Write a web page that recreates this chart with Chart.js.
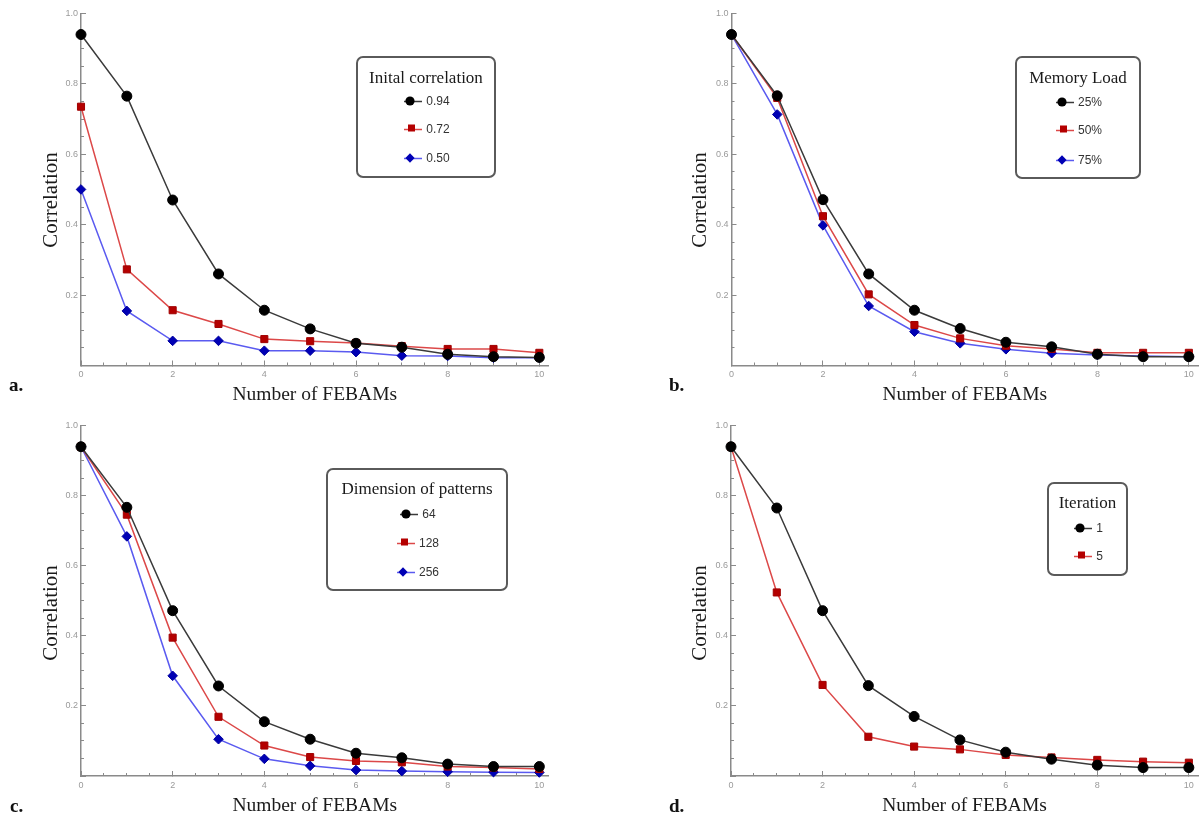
<!DOCTYPE html>
<html>
<head>
<meta charset="utf-8">
<script src="https://cdn.jsdelivr.net/npm/chart.js@4.4.1/dist/chart.umd.min.js"></script>
<style>
  html, body { margin: 0; padding: 0; background: #fff; }
  body { width: 1204px; height: 820px; position: relative; overflow: hidden; }
  canvas { position: absolute; }
  .plabel { position: absolute; font-family: 'Liberation Serif', serif; font-weight: bold; font-size: 19px; color: #111; line-height: 20px; }
  .ytitle { position: absolute; font-family: 'Liberation Serif', serif; font-size: 21px; color: #1a1a1a; line-height: 24px; white-space: nowrap; transform: translate(-50%, -50%) rotate(-90deg); }
  .lbox { position: absolute; border: 2px solid #5a5a5a; border-radius: 7px; box-sizing: border-box; background: #fff; }
  .ltitle { position: absolute; font-family: 'Liberation Serif', serif; font-size: 17px; color: #1a1a1a; line-height: 20px; white-space: nowrap; text-align: center; }
  .lrow { position: absolute; display: flex; align-items: center; justify-content: center; height: 14px; white-space: nowrap; }
  .lrow span { font-family: 'Liberation Sans', Arial, sans-serif; font-size: 12px; color: #333; margin-left: 3px; line-height: 14px; }
  .lrow svg { display: block; }
</style>
</head>
<body>
<canvas id="cA" width="602" height="410" style="left:0px;top:0px"></canvas>
<canvas id="cB" width="602" height="410" style="left:602px;top:0px"></canvas>
<canvas id="cC" width="602" height="410" style="left:0px;top:410px"></canvas>
<canvas id="cD" width="602" height="410" style="left:602px;top:410px"></canvas>
<div id="overlay"></div>
<script>
// ---------------- data ----------------
const febams = [0, 1, 2, 3, 4, 5, 6, 7, 8, 9, 10];

// a. initial correlation
const initialCorrLabels = ['0.94', '0.72', '0.50'];
const a_094 = [0.94, 0.765, 0.47, 0.26, 0.157, 0.104, 0.063, 0.052, 0.032, 0.025, 0.023];
const a_072 = [0.735, 0.273, 0.157, 0.118, 0.075, 0.069, 0.064, 0.055, 0.047, 0.047, 0.036];
const a_050 = [0.50, 0.155, 0.07, 0.07, 0.042, 0.042, 0.038, 0.028, 0.027, 0.022, 0.022];

// b. memory load
const memoryLoadLabels = ['25%', '50%', '75%'];
const b_25 = [0.94, 0.766, 0.471, 0.26, 0.157, 0.105, 0.066, 0.053, 0.032, 0.025, 0.025];
const b_50 = [0.94, 0.76, 0.424, 0.202, 0.115, 0.077, 0.056, 0.047, 0.036, 0.036, 0.036];
const b_75 = [0.94, 0.713, 0.398, 0.169, 0.096, 0.063, 0.046, 0.035, 0.03, 0.027, 0.025];

// c. dimension of patterns
const dimensionLabels = ['64', '128', '256'];
const c_64 = [0.94, 0.767, 0.472, 0.257, 0.155, 0.105, 0.065, 0.052, 0.034, 0.027, 0.027];
const c_128 = [0.94, 0.746, 0.395, 0.169, 0.087, 0.054, 0.043, 0.039, 0.027, 0.024, 0.02];
const c_256 = [0.94, 0.684, 0.286, 0.105, 0.049, 0.029, 0.017, 0.014, 0.012, 0.011, 0.01];

// d. iteration
const iterationLabels = ['1', '5'];
const d_1 = [0.94, 0.765, 0.472, 0.258, 0.17, 0.103, 0.068, 0.048, 0.031, 0.024, 0.024];
const d_5 = [0.94, 0.524, 0.26, 0.112, 0.084, 0.076, 0.06, 0.053, 0.046, 0.041, 0.038];

const yTickLabels = ['0.2', '0.4', '0.6', '0.8', '1.0'];
const xTickLabels = ['0', '2', '4', '6', '8', '10'];
const xAxisTitle = 'Number of FEBAMs';
const yAxisTitle = 'Correlation';

// ---------------- styles ----------------
const STYLES = [
  { line: '#3a3a3a', fill: '#000000', border: '#000000', point: 'circle', radius: 5 },
  { line: '#dc4848', fill: '#b40000', border: '#a00000', point: 'rect', radius: 5 },
  { line: '#5a5af0', fill: '#0000b4', border: '#0000a0', point: 'rectRot', radius: 4.8 }
];
const AXIS_COLOR = '#8a8a8a';
const TICK_COLOR = '#9a9a9a';

function toPoints(arr) { return arr.map((v, i) => ({ x: febams[i], y: v })); }

function makePanel(canvasId, geo, series, labels) {
  const [cx, cy, cw, ch] = geo.canvas;
  const xTitleFont = 19.5;
  const xLH = xTitleFont * 1.2;
  const yBoxLeft = geo.yTitleX - 12.6;
  const Wy = geo.L - yBoxLeft;
  const Hx = geo.xTitleY + xLH / 2 - geo.B;
  const padding = {
    left: yBoxLeft - cx,
    top: geo.T - cy,
    right: (cx + cw) - geo.R,
    bottom: (cy + ch) - (geo.B + Hx)
  };
  const datasets = series.map((s, i) => ({
    label: labels[i],
    data: toPoints(s),
    borderColor: STYLES[i].line,
    borderWidth: 1.5,
    backgroundColor: STYLES[i].fill,
    pointBackgroundColor: STYLES[i].fill,
    pointBorderColor: STYLES[i].border,
    pointBorderWidth: 1,
    pointStyle: STYLES[i].point,
    pointRadius: STYLES[i].radius,
    tension: 0,
    clip: false,
    xAxisID: 'x',
    yAxisID: 'y'
  }));
  const tickFont = { family: "'Liberation Sans', Arial, sans-serif", size: 9 };
  return new Chart(document.getElementById(canvasId), {
    type: 'line',
    data: { datasets },
    options: {
      responsive: false,
      animation: false,
      events: [],
      layout: { padding },
      plugins: { legend: { display: false }, tooltip: { enabled: false } },
      scales: {
        x: {
          type: 'linear', position: 'bottom', min: 0, max: 10.2, weight: 0,
          ticks: {
            stepSize: 2, includeBounds: false, autoSkip: false, maxRotation: 0,
            color: TICK_COLOR, font: tickFont, padding: 9,
            callback: (v) => { const s = String(v); return xTickLabels.includes(s) ? s : ''; }
          },
          grid: { drawOnChartArea: false, drawTicks: true, tickLength: -5, tickColor: AXIS_COLOR, tickWidth: 1 },
          border: { display: true, color: AXIS_COLOR, width: 1.5 },
          title: { display: true, text: xAxisTitle, color: '#1a1a1a', padding: 0,
                   font: { family: "'Liberation Serif', serif", size: xTitleFont } },
          afterFit: (s) => { s.height = Hx; }
        },
        xMinor: {
          type: 'linear', position: 'bottom', min: 0, max: 10.2, weight: -1,
          ticks: { stepSize: 0.5, includeBounds: false, display: false, autoSkip: false },
          grid: { drawOnChartArea: false, drawTicks: true, tickLength: -3, tickColor: AXIS_COLOR, tickWidth: 1 },
          border: { display: false },
          afterFit: (s) => { s.height = 0; }
        },
        y: {
          type: 'linear', position: 'left', min: 0, max: 1, weight: 0,
          ticks: {
            stepSize: 0.2, autoSkip: false, color: TICK_COLOR, font: tickFont, padding: 8,
            callback: (v) => { const s = Number(v).toFixed(1); return yTickLabels.includes(s) ? s : ''; }
          },
          grid: { drawOnChartArea: false, drawTicks: true, tickLength: -5, tickColor: AXIS_COLOR, tickWidth: 1 },
          border: { display: true, color: AXIS_COLOR, width: 1.5 },
          title: { display: false },
          afterFit: (s) => { s.width = Wy; }
        },
        yMinor: {
          type: 'linear', position: 'left', min: 0, max: 1, weight: -1,
          ticks: { stepSize: 0.05, display: false, autoSkip: false },
          grid: { drawOnChartArea: false, drawTicks: true, tickLength: -3, tickColor: AXIS_COLOR, tickWidth: 1 },
          border: { display: false },
          afterFit: (s) => { s.width = 0; }
        }
      }
    }
  });
}

const GEO = {
  a: { canvas: [0, 0, 602, 410],   L: 81,    R: 548.5,  T: 13,    B: 365.5, yTitleX: 50,  yTitleY: 200, xTitleY: 395 },
  b: { canvas: [602, 0, 602, 410], L: 731.5, R: 1199.2, T: 13,    B: 365.5, yTitleX: 699, yTitleY: 200, xTitleY: 395 },
  c: { canvas: [0, 410, 602, 410], L: 81,    R: 548.5,  T: 425.7, B: 776,   yTitleX: 50,  yTitleY: 613, xTitleY: 806 },
  d: { canvas: [602, 410, 602, 410], L: 731, R: 1199,   T: 425.7, B: 776,   yTitleX: 699, yTitleY: 613, xTitleY: 806 }
};

makePanel('cA', GEO.a, [a_094, a_072, a_050], initialCorrLabels);
makePanel('cB', GEO.b, [b_25, b_50, b_75], memoryLoadLabels);
makePanel('cC', GEO.c, [c_64, c_128, c_256], dimensionLabels);
makePanel('cD', GEO.d, [d_1, d_5], iterationLabels);

// ---------------- legends, y titles & panel labels (HTML text) ----------------
const overlay = document.getElementById('overlay');
function markerSVG(i) {
  const st = STYLES[i];
  let m = '';
  if (st.point === 'circle') m = `<circle cx="8" cy="7" r="4.6" fill="${st.fill}"/>`;
  else if (st.point === 'rect') m = `<rect x="6" y="2.5" width="7" height="7" fill="${st.fill}"/>`;
  else m = `<polygon points="8,2.2 12.6,7 8,11.8 3.4,7" fill="${st.fill}"/>`;
  return `<svg width="21" height="14" viewBox="0 0 21 14"><line x1="2" y1="7.5" x2="20" y2="7.5" stroke="${st.line}" stroke-width="1.5"/>${m}</svg>`;
}
function makeLegend(box, title, titleY, rowYs, labels) {
  const b = document.createElement('div');
  b.className = 'lbox';
  Object.assign(b.style, { left: box[0] + 'px', top: box[1] + 'px', width: box[2] + 'px', height: box[3] + 'px' });
  overlay.appendChild(b);
  const t = document.createElement('div');
  t.className = 'ltitle';
  t.textContent = title;
  Object.assign(t.style, { left: box[0] + 'px', width: box[2] + 'px', top: (titleY - 10) + 'px' });
  overlay.appendChild(t);
  labels.forEach((lab, i) => {
    const r = document.createElement('div');
    r.className = 'lrow';
    Object.assign(r.style, { left: box[0] + 'px', width: box[2] + 'px', top: (rowYs[i] - 7) + 'px' });
    r.innerHTML = markerSVG(i) + `<span>${lab}</span>`;
    overlay.appendChild(r);
  });
}
makeLegend([356, 56, 140, 122], 'Inital correlation', 78, [101, 129, 158], initialCorrLabels);
makeLegend([1015, 56, 126, 123], 'Memory Load', 78, [102, 130, 160], memoryLoadLabels);
makeLegend([326, 468, 182, 123], 'Dimension of patterns', 489, [514, 543, 572], dimensionLabels);
makeLegend([1047, 482, 81, 94], 'Iteration', 503, [528, 556], iterationLabels);

function yTitle(g) {
  const d = document.createElement('div');
  d.className = 'ytitle';
  d.textContent = yAxisTitle;
  Object.assign(d.style, { left: g.yTitleX + 'px', top: g.yTitleY + 'px' });
  overlay.appendChild(d);
}
[GEO.a, GEO.b, GEO.c, GEO.d].forEach(yTitle);

function panelLabel(txt, x, y) {
  const d = document.createElement('div');
  d.className = 'plabel';
  d.textContent = txt;
  Object.assign(d.style, { left: x + 'px', top: (y - 10) + 'px' });
  overlay.appendChild(d);
}
panelLabel('a.', 9, 385);
panelLabel('b.', 669, 385);
panelLabel('c.', 10, 806);
panelLabel('d.', 669, 806);
</script>
</body>
</html>
